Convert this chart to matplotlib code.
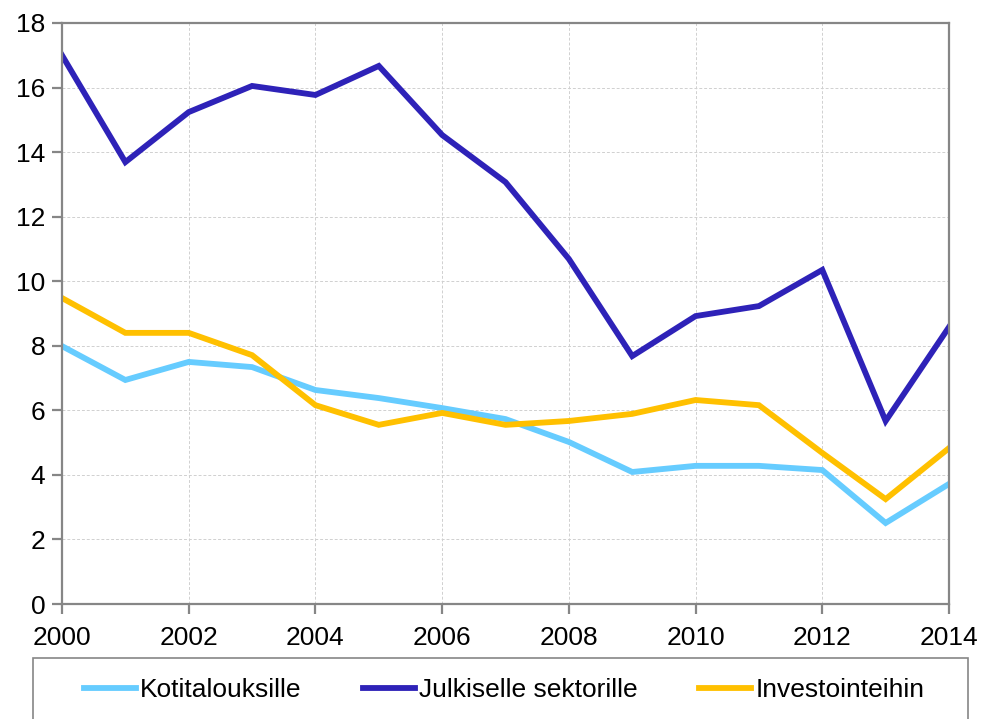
import matplotlib
matplotlib.use("Agg")
import matplotlib.pyplot as plt
from matplotlib.patches import Rectangle

plt.rcParams['font.family'] = ['Liberation Sans', 'DejaVu Sans']

years = list(range(2000, 2015))
kotitaloudet = [7.99, 6.94, 7.50, 7.34, 6.63, 6.38, 6.07, 5.73, 5.02, 4.09, 4.28, 4.28, 4.15, 2.51, 3.72]
julkinen = [17.0, 13.69, 15.24, 16.05, 15.77, 16.67, 14.53, 13.07, 10.69, 7.68, 8.92, 9.23, 10.35, 5.67, 8.58]
investoinnit = [9.48, 8.40, 8.40, 7.71, 6.16, 5.55, 5.92, 5.55, 5.67, 5.89, 6.32, 6.16, 4.68, 3.25, 4.83]
series_names = ["Kotitalouksille", "Julkiselle sektorille", "Investointeihin"]
colors = ["#66CCFF", "#2E22B8", "#FFC000"]

fig = plt.figure(figsize=(9.87, 7.19), dpi=100)
ax = fig.add_axes([62 / 987, 115 / 719, 887 / 987, 581 / 719])

for vals, name, c in zip([kotitaloudet, julkinen, investoinnit], series_names, colors):
    ax.plot(years, vals, color=c, lw=4.2, label=name, solid_joinstyle='miter')

ax.set_xlim(2000, 2014)
ax.set_ylim(0, 18)
ax.set_xticks(range(2000, 2015, 2))
ax.set_yticks(range(0, 19, 2))
ax.grid(True, color="#D0D0D0", ls=(0, (3, 2)), lw=0.7)
for s in ax.spines.values():
    s.set_color("#868686")
    s.set_linewidth(1.6)
ax.tick_params(axis='both', labelsize=19, color="#868686", width=1.6, length=7, direction='out')
ax.tick_params(axis='x', pad=9)
ax.tick_params(axis='y', pad=5)

# legend box, cut off at the bottom of the figure
fig.patches.append(Rectangle((33 / 987, -0.05), 935 / 987, 61 / 719 + 0.05,
                             transform=fig.transFigure, fill=False,
                             edgecolor="#868686", lw=1.2))
handles, labels = ax.get_legend_handles_labels()
fig.legend(handles, labels, loc='center', bbox_to_anchor=(504 / 987, 29 / 719), ncol=3,
           frameon=False, fontsize=19, handlelength=2.0, handletextpad=0.15,
           columnspacing=2.3)

fig.savefig("out.png", dpi=100)
